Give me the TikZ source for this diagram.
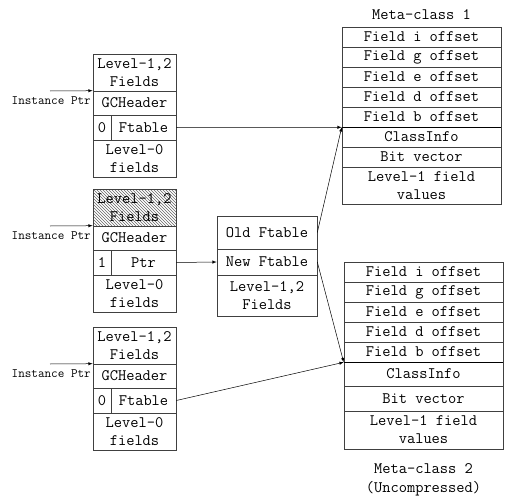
\documentclass[tikz,border=0pt]{standalone}
\usepackage{tikz}
\usetikzlibrary{arrows,patterns}

\tikzset{
	cell/.style={draw=black!75, line width=0.6pt, inner sep=0pt, align=center, font=\ttfamily\fontsize{16}{18}\selectfont},
	ptrtext/.style={anchor=east, inner sep=0pt, font=\ttfamily\fontsize{12.8}{14}\selectfont},
	title/.style={inner sep=0pt, align=center, font=\ttfamily\fontsize{16}{19}\selectfont},
	link/.style={-latex, line width=0.5pt},
	hatched/.style={pattern=north west lines, pattern color=black!60},
	divider/.style={line width=1.6pt}
}

\begin{document}
\begin{tikzpicture}[x=1pt, y=-1pt]
		\fill[white] (0,0) rectangle (507,498);
		\useasboundingbox (0,0) rectangle (507,498);
		% instance 1
		\draw (134.5,72.5) node[cell, minimum width=83pt, minimum height=37pt](top1){Level-1,2\\Fields};
		\draw (134.5,103) node[cell, minimum width=83pt, minimum height=24pt](gc1){GCHeader};
		\draw (102,127.5) node[cell, minimum width=18pt, minimum height=25pt](bit1){0};
		\draw (143.5,127.5) node[cell, minimum width=65pt, minimum height=25pt](ft1){Ftable};
		\draw (134.5,158.5) node[cell, minimum width=83pt, minimum height=37pt](low1){Level-0\\fields};
		\coordinate (in1) at (50,91);
		\draw (91,101) node[ptrtext](lbl1){Instance Ptr};
		\draw[link] (in1) -- (gc1.north west);
		% instance 2 (forwarded)
		\draw (134.5,207.5) node[cell, hatched, minimum width=83pt, minimum height=37pt](top2){Level-1,2\\Fields};
		\draw (134.5,238) node[cell, minimum width=83pt, minimum height=24pt](gc2){GCHeader};
		\draw (102,262.5) node[cell, minimum width=18pt, minimum height=25pt](bit2){1};
		\draw (143.5,262.5) node[cell, minimum width=65pt, minimum height=25pt](ptr2){Ptr};
		\draw (134.5,293.5) node[cell, minimum width=83pt, minimum height=37pt](low2){Level-0\\fields};
		\coordinate (in2) at (50,226);
		\draw (91,236) node[ptrtext](lbl2){Instance Ptr};
		\draw[link] (in2) -- (gc2.north west);
		% instance 3
		\draw (134.5,345.5) node[cell, minimum width=83pt, minimum height=37pt](top3){Level-1,2\\Fields};
		\draw (134.5,376) node[cell, minimum width=83pt, minimum height=24pt](gc3){GCHeader};
		\draw (102,400.5) node[cell, minimum width=18pt, minimum height=25pt](bit3){0};
		\draw (143.5,400.5) node[cell, minimum width=65pt, minimum height=25pt](ft3){Ftable};
		\draw (134.5,431.5) node[cell, minimum width=83pt, minimum height=37pt](low3){Level-0\\fields};
		\coordinate (in3) at (50,364);
		\draw (91,374) node[ptrtext](lbl3){Instance Ptr};
		\draw[link] (in3) -- (gc3.north west);
		% relocated block
		\draw (267,232.5) node[cell, minimum width=100pt, minimum height=33pt](oldft){Old Ftable};
		\draw (267,262) node[cell, minimum width=100pt, minimum height=26pt](newft){New Ftable};
		\draw (267,295.5) node[cell, minimum width=100pt, minimum height=41pt](moved){Level-1,2\\Fields};
		% meta-class 1
		\draw (421.5,15) node[title](name1){Meta-class 1};
		\draw (421.5,37) node[cell, minimum width=159pt, minimum height=20pt](m1i){Field i offset};
		\draw (421.5,57) node[cell, minimum width=159pt, minimum height=20pt](m1g){Field g offset};
		\draw (421.5,77) node[cell, minimum width=159pt, minimum height=20pt](m1e){Field e offset};
		\draw (421.5,97) node[cell, minimum width=159pt, minimum height=20pt](m1d){Field d offset};
		\draw (421.5,117) node[cell, minimum width=159pt, minimum height=20pt](m1b){Field b offset};
		\draw (421.5,137) node[cell, minimum width=159pt, minimum height=20pt](m1info){ClassInfo};
		\draw (421.5,157) node[cell, minimum width=159pt, minimum height=20pt](m1bits){Bit vector};
		\draw (421.5,185.5) node[cell, minimum width=159pt, minimum height=37pt](m1vals){Level-1 field\\values};
		\draw[divider] (m1b.south west) -- (m1b.south east);
		% meta-class 2
		\draw (423.5,272) node[cell, minimum width=159pt, minimum height=20pt](m2i){Field i offset};
		\draw (423.5,292) node[cell, minimum width=159pt, minimum height=20pt](m2g){Field g offset};
		\draw (423.5,312) node[cell, minimum width=159pt, minimum height=20pt](m2e){Field e offset};
		\draw (423.5,332) node[cell, minimum width=159pt, minimum height=20pt](m2d){Field d offset};
		\draw (423.5,352) node[cell, minimum width=159pt, minimum height=20pt](m2b){Field b offset};
		\draw (423.5,374) node[cell, minimum width=159pt, minimum height=24pt](m2info){ClassInfo};
		\draw (423.5,398.5) node[cell, minimum width=159pt, minimum height=25pt](m2bits){Bit vector};
		\draw (423.5,430) node[cell, minimum width=159pt, minimum height=38pt](m2vals){Level-1 field\\values};
		\draw[divider] (m2b.south west) -- (m2b.south east);
		\draw (423.5,480) node[title](name2){Meta-class 2\\(Uncompressed)};
		% pointers
		\draw[link] (ft1.east) -- (m1b.south west);
		\draw[link] (oldft.east) -- (m1b.south west);
		\draw[link] (ptr2.east) -- (newft.west);
		\draw[link] (newft.east) -- (m2b.south west);
		\draw[link] (ft3.east) -- (m2b.south west);
	\end{tikzpicture}
\end{document}
